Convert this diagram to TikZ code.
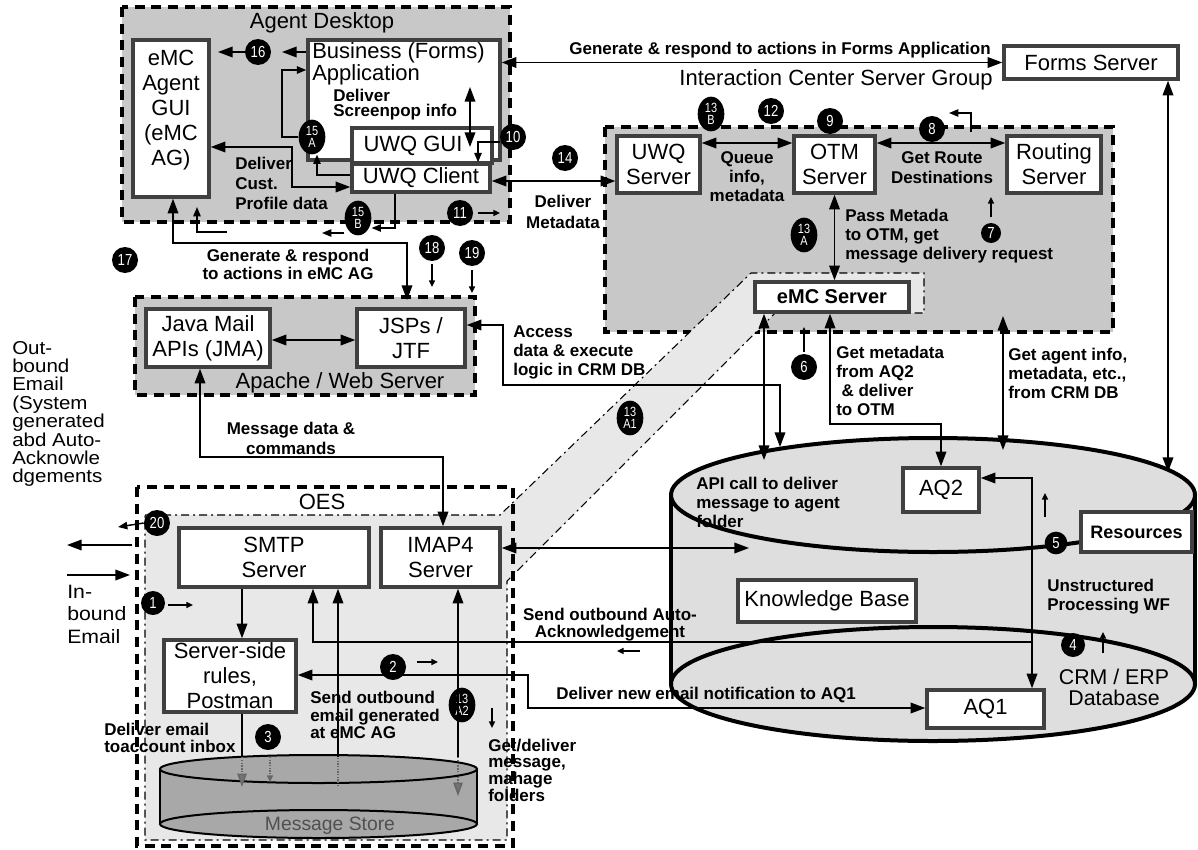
\documentclass[tikz,border=0pt]{standalone}
\usepackage{fontspec}
\setmainfont{Liberation Sans}
\newfontfamily\numfont[FakeStretch=0.82]{Liberation Sans}
\newfontfamily\widefont[FakeStretch=1.1]{Liberation Sans}
\usetikzlibrary{arrows.meta,fit,shapes.geometric}
\definecolor{grpgray}{HTML}{C8C8C8}
\definecolor{bandgray}{HTML}{E8E8E8}
\definecolor{dbgray}{HTML}{DEDEDE}
\definecolor{msgray}{HTML}{A8A8A8}
\definecolor{boxgray}{HTML}{404040}
\definecolor{msgtext}{HTML}{505050}
\newcommand\bxf{\fontsize{16.5}{18.75}\selectfont}
\newcommand\lbf{\bfseries\fontsize{12.75}{14.25}\selectfont}
\begin{document}
\begin{tikzpicture}[x=0.75pt,y=-0.75pt,
 grp/.style={draw=black,line width=3pt,dash pattern=on 7.5pt off 5pt,fill=grpgray},
 box/.style={draw=boxgray,line width=2.6pt,fill=white,inner sep=0pt},
 txt/.style={inner sep=0pt,align=center,font=\bxf},
 lbl/.style={inner sep=0pt,align=left,font=\lbf},
 num/.style={circle,fill=black,text=white,minimum size=19.5pt,inner sep=0pt,font=\numfont\fontsize{12}{10}\selectfont},
 num2/.style={ellipse,fill=black,text=white,minimum width=20pt,minimum height=26pt,inner sep=0pt,align=center,font=\numfont\fontsize{10}{9.5}\selectfont},
 con/.style={line width=1.1pt},
 >={Triangle[length=11pt,width=8pt]},
 sm/.style={line width=1.1pt,-{Triangle[length=5pt,width=4.5pt]}},
 md/.style={line width=1.1pt,-{Triangle[length=7pt,width=5.5pt]}},
 dotarr/.style={line width=1.1pt,densely dotted,draw=black!60,-{Triangle[length=10pt,width=7pt,fill=black!55]}},
]
\useasboundingbox (0,0) rectangle (1198,849);
% ---------- groups ----------
\draw[grp] (122,7) rectangle (510,222);
\draw[grp] (605,127) rectangle (1113,332);
\draw[grp] (135,297) rectangle (475,395);
\draw[fill=bandgray,line width=0.8pt,dash pattern=on 6pt off 3pt on 1.5pt off 3pt]
  (145,515) -- (500,515) -- (751,273) -- (924,273) -- (924,313) -- (775,313) -- (507,581) -- (507,840) -- (145,840) -- cycle;
\draw[line width=3pt,dash pattern=on 7.5pt off 5pt] (137,487) rectangle (513,846);
\node[txt] (tagent) at (322,23) {Agent Desktop};
\node[txt] (ticsg) at (836,80) {Interaction Center Server Group};
\node[txt] (tapache) at (340,383) {Apache / Web Server};
\node[txt] (toes) at (322,502) {OES};
% ---------- database cylinder ----------
\fill[dbgray] (671,495) rectangle (1195,684);
\fill[dbgray] (933,684) ellipse [x radius=262,y radius=57];
\fill[dbgray] (933,495) ellipse [x radius=262,y radius=57];
\draw[line width=3pt] (933,684) ellipse [x radius=262,y radius=57];
\draw[line width=3pt] (933,495) ellipse [x radius=262,y radius=57];
\draw[line width=3pt] (671,495) -- (671,684);
\draw[line width=3pt] (1195,495) -- (1195,684);
% ---------- message store ----------
\fill[msgray] (160,769) rectangle (477,824);
\fill[msgray] (318.5,824) ellipse [x radius=158.5,y radius=14];
\draw[line width=1.5pt] (318.5,824) ellipse [x radius=158.5,y radius=14];
\draw[line width=1.5pt,fill=msgray] (318.5,769) ellipse [x radius=158.5,y radius=14];
\draw[line width=1.5pt] (160,769) -- (160,824);
\draw[line width=1.5pt] (477,769) -- (477,824);
\node[txt,text=msgtext,font=\fontsize{14.5}{16}\selectfont] (tms) at (330,826) {Message Store};
% ---------- boxes ----------
\node[box,fit={(133,40) (209,197)}] (gui) {};
\node[txt] (tgui) at (171,110) {eMC\\Agent\\GUI\\(eMC\\AG)};
\node[box,fit={(308,40) (500,160)}] (bus) {};
\node[txt,anchor=north west,align=left,font=\fontsize{16.5}{16.5}\selectfont] (tbus) at (312,42) {Business (Forms)\\Application};
\node[box,fit={(352,128) (492,163)}] (uwqgui) {};
\node[txt] (tuwqgui) at (413,146) {UWQ GUI};
\node[box,fit={(352,164) (490,192)}] (uwqc) {};
\node[txt] (tuwqc) at (uwqc) {UWQ Client};
\node[box,fit={(1004,46) (1178,79)}] (forms) {};
\node[txt] (tforms) at (forms) {Forms Server};
\node[box,fit={(617,136) (700,193)}] (uwqs) {};
\node[txt] (tuwqs) at (uwqs) {UWQ\\Server};
\node[box,fit={(794,136) (875,193)}] (otm) {};
\node[txt] (totm) at (otm) {OTM\\Server};
\node[box,fit={(1007,136) (1101,193)}] (rout) {};
\node[txt] (trout) at (rout) {Routing\\Server};
\node[box,fit={(755,282) (909,312)}] (emc) {};
\node[txt,font=\bfseries\fontsize{15}{16}\selectfont] (temc) at (emc) {eMC Server};
\node[box,fit={(146,309) (270,367)}] (java) {};
\node[txt] (tjava) at (java) {Java Mail\\APIs (JMA)};
\node[box,fit={(357,309) (465,367)}] (jsp) {};
\node[txt] (tjsp) at (jsp) {JSPs /\\JTF};
\node[box,fit={(179,528) (369,587)}] (smtp) {};
\node[txt] (tsmtp) at (smtp) {SMTP\\Server};
\node[box,fit={(381,528) (500,587)}] (imap) {};
\node[txt] (timap) at (imap) {IMAP4\\Server};
\node[box,fit={(164,640) (296,712)}] (rules) {};
\node[txt] (trules) at (rules) {Server-side\\rules,\\Postman};
\node[box,fit={(903,468) (979,512)}] (aq2) {};
\node[txt] (taq2) at (aq2) {AQ2};
\node[box,fit={(1081,512) (1192,552)}] (res) {};
\node[txt,font=\bfseries\fontsize{13.5}{15}\selectfont] (tres) at (res) {Resources};
\node[box,fit={(738,580) (916,622)}] (kb) {};
\node[txt] (tkb) at (kb) {Knowledge Base};
\node[box,fit={(927,690) (1044,728)}] (aq1) {};
\node[txt] (taq1) at (aq1) {AQ1};
% ---------- circles ----------
\node[num] (c16) at (258,52) {16};
\node[num2] (c15A) at (312,137) {15\\A};
\node[num] (c10) at (513,137) {10};
\node[num2] (c15B) at (358,218) {15\\B};
\node[num] (c11) at (460,213) {11};
\node[num] (c14) at (565,158) {14};
\node[num2] (c13B) at (711,114) {13\\B};
\node[num] (c12) at (771,111) {12};
\node[num] (c9) at (830,121) {9};
\node[num] (c8) at (932,129) {8};
\node[num2] (c13A) at (804,235) {13\\A};
\node[num,minimum size=15pt] (c7) at (991,233) {7};
\node[num] (c6) at (804,367) {6};
\node[num] (c17) at (125,260) {17};
\node[num] (c18) at (432,248) {18};
\node[num] (c19) at (472,253) {19};
\node[num2] (c13A1) at (630,418) {13\\A1};
\node[num,minimum size=17pt] (c5) at (1056,543) {5};
\node[num,minimum size=18pt] (c4) at (1073,645) {4};
\node[num] (c20) at (157,523) {20};
\node[num,minimum size=18pt] (c1) at (153,603) {1};
\node[num] (c2) at (393,667) {2};
\node[num2] (c13A2) at (462,705) {13\\A2};
\node[num] (c3) at (268,737) {3};
% ---------- coordinates ----------
\coordinate (fd) at (1168,472);
\coordinate (u14) at (550,181);
\coordinate (a16a) at (218,52);
\coordinate (a16b) at (282,52);
\coordinate (p15a) at (282,70);
\coordinate (p15b) at (317,175);
\coordinate (pcust) at (292,147);
\coordinate (pcust2) at (292,187);
\coordinate (sp1) at (470,87);
\coordinate (sp2) at (470,147);
\coordinate (p10) at (478,142);
\coordinate (p15c) at (395,228);
\coordinate (p15d) at (322,233);
\coordinate (q1) at (227,232);
\coordinate (q2) at (197,207);
\coordinate (g1) at (173,243);
\coordinate (g2) at (407,300);
\coordinate (a11a) at (478,213);
\coordinate (a11b) at (500,213);
\coordinate (a18a) at (432,264);
\coordinate (a18b) at (432,287);
\coordinate (a19a) at (472,270);
\coordinate (a19b) at (472,293);
\coordinate (jj) at (300,340);
\coordinate (ac1) at (503,325);
\coordinate (ac2) at (780,385);
\coordinate (ac3) at (780,447);
\coordinate (api) at (764,460);
\coordinate (s6a) at (804,352);
\coordinate (s6b) at (804,327);
\coordinate (gm1) at (830,424);
\coordinate (ga1) at (1003,316);
\coordinate (ga2) at (1003,450);
\coordinate (qy) at (750,143);
\coordinate (l8a) at (971,132);
\coordinate (l8b) at (971,113);
\coordinate (l8c) at (949,113);
\coordinate (s7a) at (991,217);
\coordinate (s7b) at (991,197);
\coordinate (md1) at (200,457);
\coordinate (md2) at (443,457);
\coordinate (im) at (749,548);
\coordinate (aa1) at (1032,642);
\coordinate (aa2) at (313,642);
\coordinate (aa3) at (640,651);
\coordinate (aa4) at (617,651);
\coordinate (dn1) at (528,675);
\coordinate (dn2) at (528,708);
\coordinate (qq) at (1032,478);
\coordinate (s5a) at (1045,517);
\coordinate (s5b) at (1045,493);
\coordinate (s4a) at (1103,653);
\coordinate (s4b) at (1103,632);
\coordinate (sr) at (242,600);
\coordinate (rs1) at (242,757);
\coordinate (rs2) at (242,787);
\coordinate (s3a) at (270,757);
\coordinate (s3b) at (270,782);
\coordinate (so1) at (338,786);
\coordinate (so2) at (338,757);
\coordinate (is1) at (458,757);
\coordinate (is2) at (458,796);
\coordinate (s1a) at (168,605);
\coordinate (s1b) at (193,605);
\coordinate (s2a) at (417,662);
\coordinate (s2b) at (438,662);
\coordinate (sda) at (492,708);
\coordinate (sdb) at (492,728);
\coordinate (o20) at (118,527);
\coordinate (ob1) at (132,545);
\coordinate (ob2) at (67,545);
\coordinate (ib1) at (67,575);
\coordinate (ib2) at (130,575);
% ---------- connectors ----------
\draw[con,<->] (forms.west) -- (forms.west -| bus.east);
\draw[con,<->] (fd |- forms.south) -- (fd);
\draw[con,<->] (uwqc.east |- u14) -- (uwqs.west |- u14);
\draw[con,->] (bus.west |- a16b) -- (a16b);
\draw[con,->] (c16.west) -- (a16a);
\draw[md] (c15A.west) -| (p15a) -- (bus.west |- p15a);
\draw[md] (uwqc.west |- p15b) -- (p15b) -- (c15A.south -| p15b);
\draw[con,<->] (gui.east |- pcust) -- (pcust) -- (pcust2) -- (uwqc.west |- pcust2);
\draw[con,<->] (sp1) -- (sp2);
\draw[md] (c10.west |- p10) -- (p10) -- (uwqc.north -| p10);
\draw[md] (uwqc.south -| p15c) -- (p15c) -- (c15B.east |- p15c);
\draw[md] (c15B.west |- p15d) -- (p15d);
\draw[md] (q1) -| (q2);
\draw[con,<->] (gui.south -| g1) -- (g1) -| (g2);
\draw[sm] (a11a) -- (a11b);
\draw[sm] (a18a) -- (a18b);
\draw[sm] (a19a) -- (a19b);
\draw[con,<->] (java.east |- jj) -- (jsp.west |- jj);
\draw[con,<->] (jsp.east |- ac1) -- (ac1) |- (ac2) -- (ac3);
\draw[con,<->] (emc.south -| api) -- (api);
\draw[sm] (s6a) -- (s6b);
\draw[con,<->] (emc.south -| gm1) -- (gm1) -| (aq2.north);
\draw[con,<->] (ga1) -- (ga2);
\draw[con,<->] (otm.south) -- (otm.south |- emc.north);
\draw[con,<->] (uwqs.east |- qy) -- (otm.west |- qy);
\draw[con,<->] (otm.east |- qy) -- (rout.west |- qy);
\draw[md] (l8a) -- (l8b) -- (l8c);
\draw[sm] (s7a) -- (s7b);
\draw[con,<->] (java.south -| md1) -- (md1) -- (md2) -- (imap.north -| md2);
\draw[con,<->] (imap.east |- im) -- (im);
\draw[con,->] (aa1) -- (aa2) -- (smtp.south -| aa2);
\draw[sm] (aa3) -- (aa4);
\draw[con,<->] (rules.east |- dn1) -- (dn1) -- (dn2) -- (aq1.west |- dn2);
\draw[con,<->] (aq2.east |- qq) -- (qq) -- (aq1.north -| qq);
\draw[sm] (s5a) -- (s5b);
\draw[sm] (s4a) -- (s4b);
\draw[con,->] (smtp.south -| sr) -- (rules.north -| sr);
\draw[con] (rules.south -| rs1) -- (rs1);
\draw[dotarr] (rs1) -- (rs2);
\draw[line width=1pt,densely dotted,draw=black!60,-{Triangle[length=5pt,width=4.5pt]}] (s3a) -- (s3b);
\draw[line width=1pt,densely dotted,draw=black!60] (so1) -- (so2);
\draw[con,->] (so2) -- (smtp.south -| so2);
\draw[con,->] (is1) -- (imap.south -| is1);
\draw[dotarr] (is1) -- (is2);
\draw[sm] (s1a) -- (s1b);
\draw[sm] (s2a) -- (s2b);
\draw[sm] (sda) -- (sdb);
\draw[md] (c20.west) -- (o20);
\draw[con,->] (ob1) -- (ob2);
\draw[con,->] (ib1) -- (ib2);
% ---------- labels ----------
\node[lbl] (lforms) at (780,50) {Generate \& respond to actions in Forms Application};
\node[lbl,anchor=west,font=\bfseries\fontsize{12.75}{11.25}\selectfont] (lscreen) at (333,105) {Deliver\\Screenpop info};
\node[lbl,anchor=west,font=\bfseries\fontsize{12.75}{15}\selectfont] (lcust) at (235,183) {Deliver\\Cust.\\Profile data};
\node[lbl,align=center,font=\bfseries\fontsize{12.75}{15.75}\selectfont] (lmeta) at (563,212) {Deliver\\Metadata};
\node[lbl,align=center] (lqueue) at (747,177) {Queue\\info,\\metadata};
\node[lbl,align=center,font=\bfseries\fontsize{12.75}{15}\selectfont] (lroute) at (942,168) {Get Route\\Destinations};
\node[lbl,anchor=west] (lpass) at (845,236) {Pass Metada\\to OTM, get\\message delivery request};
\node[lbl,align=center,font=\bfseries\fontsize{12.75}{13.5}\selectfont] (lgen) at (288,264) {Generate \& respond\\to actions in eMC AG};
\node[lbl,anchor=west] (lacc) at (513,352) {Access\\data \& execute\\logic in CRM DB};
\node[lbl,anchor=west] (lgm) at (836,381) {Get metadata\\from AQ2\\\hspace{4pt}\& deliver\\to OTM};
\node[lbl,anchor=west] (lga) at (1008,373) {Get agent info,\\metadata, etc.,\\from CRM DB};
\node[lbl,align=center,font=\bfseries\fontsize{12.75}{15}\selectfont] (lmd) at (291,438) {Message data \&\\commands};
\node[lbl,anchor=west] (lapi) at (696,502) {API call to deliver\\message to agent\\folder};
\node[lbl,align=center,font=\bfseries\fontsize{12.75}{12.75}\selectfont] (lauto) at (610,625) {Send outbound Auto-\\Acknowledgement};
\node[lbl,anchor=west] (ldn) at (556,695) {Deliver new email notification to AQ1};
\node[lbl,anchor=west] (lunst) at (1047,597) {Unstructured\\Processing WF};
\node[txt,font=\fontsize{16}{15.75}\selectfont] (lcrm) at (1114,687) {CRM / ERP\\Database};
\node[lbl,anchor=west,font=\bfseries\fontsize{12.75}{13}\selectfont] (lso) at (310,715) {Send outbound\\email generated\\at eMC AG};
\node[lbl,anchor=west,font=\bfseries\fontsize{12.75}{12.75}\selectfont] (lde) at (104,738) {Deliver email\\toaccount inbox};
\node[lbl,anchor=west,font=\bfseries\fontsize{12.75}{12.5}\selectfont] (lgd) at (488,770) {Get/deliver\\message,\\mahage\\folders};
\node[txt,anchor=west,align=left,font=\widefont\fontsize{14}{13.8}\selectfont] (lout) at (12,414) {Out-\\bound\\Email\\(System\\generated\\abd Auto-\\Acknowle\\dgements};
\node[txt,anchor=west,align=left,font=\widefont\fontsize{14.5}{16.9}\selectfont] (lin) at (67,614) {In-\\bound\\Email};
\end{tikzpicture}
\end{document}
